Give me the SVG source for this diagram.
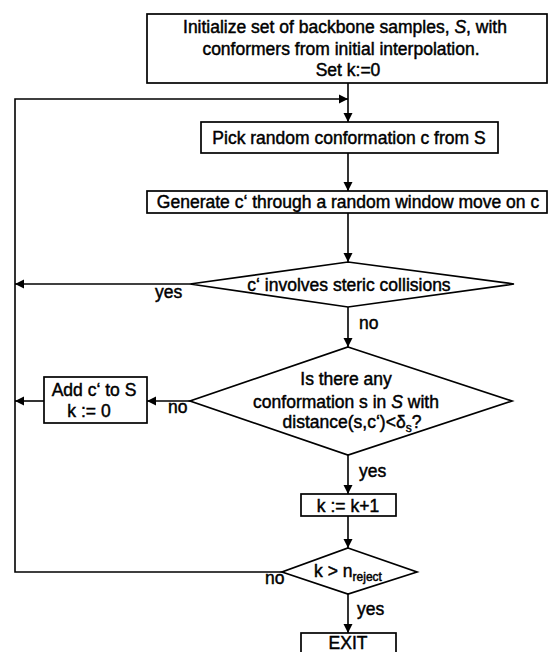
<svg xmlns="http://www.w3.org/2000/svg" width="548" height="652" viewBox="0 0 548 652">
<defs>
<style>
.box{fill:#fff;stroke:#000;stroke-width:1.7}
.ln{fill:none;stroke:#000;stroke-width:1.6}
.t{font-family:"Liberation Sans",Arial,sans-serif;font-size:17.5px;fill:#000;stroke:#000;stroke-width:0.45;text-anchor:middle}
.l{font-family:"Liberation Sans",Arial,sans-serif;font-size:17.5px;fill:#000;stroke:#000;stroke-width:0.45;text-anchor:start}
.sub{font-size:12px}
</style>
<marker id="ah" markerWidth="10" markerHeight="10" refX="9" refY="5" orient="auto" markerUnits="userSpaceOnUse">
<path d="M0,0.5 L9,5 L0,9.5 Z" fill="#000"/>
</marker>
</defs>
<rect width="548" height="652" fill="#fff"/>
<g id="connectors">
<path class="ln" d="M348,83 V122" marker-end="url(#ah)"/>
<path class="ln" d="M282,572 H15 V99 H348" marker-end="url(#ah)"/>
<path class="ln" d="M348,153 V191" marker-end="url(#ah)"/>
<path class="ln" d="M348,213 V262" marker-end="url(#ah)"/>
<path class="ln" d="M190,284 H15" marker-end="url(#ah)"/>
<path class="ln" d="M348,307 V347" marker-end="url(#ah)"/>
<path class="ln" d="M190,401 H147" marker-end="url(#ah)"/>
<path class="ln" d="M44,401 H15" marker-end="url(#ah)"/>
<path class="ln" d="M348,455 V494" marker-end="url(#ah)"/>
<path class="ln" d="M348,516 V548" marker-end="url(#ah)"/>
<path class="ln" d="M348,594 V633" marker-end="url(#ah)"/>
<text class="l" x="155" y="298">yes</text>
<text class="l" x="359" y="329">no</text>
<text class="l" x="168" y="413">no</text>
<text class="l" x="359" y="477">yes</text>
<text class="l" x="265" y="584">no</text>
<text class="l" x="357" y="615">yes</text>
</g>
<g id="init">
<rect class="box" x="147" y="14" width="400" height="69"/>
<text class="t" x="345" y="33">Initialize set of backbone samples, <tspan font-style="italic">S</tspan>, with</text>
<text class="t" x="341" y="55">conformers from initial interpolation.</text>
<text class="t" x="348" y="76">Set k:=0</text>
</g>
<g id="pick">
<rect class="box" x="201" y="122" width="297" height="31"/>
<text class="t" x="349" y="144">Pick random conformation c from S</text>
</g>
<g id="generate">
<rect class="box" x="147" y="191" width="400" height="22"/>
<text class="t" x="348" y="208">Generate c‘ through a random window move on c</text>
</g>
<g id="collision">
<polygon class="box" points="348,262 514,284 348,307 190,284"/>
<text class="t" x="349" y="291">c‘ involves steric collisions</text>
</g>
<g id="distance">
<polygon class="box" points="348,347 512,401 348,455 190,401"/>
<text class="t" x="346" y="385">Is there any</text>
<text class="t" x="346" y="408">conformation s in <tspan font-style="italic">S</tspan> with</text>
<text class="t" x="352" y="428">distance(s,c‘)&lt;δ<tspan class="sub" dy="4">s</tspan><tspan dy="-4">?</tspan></text>
</g>
<g id="add">
<rect class="box" x="44" y="377" width="103" height="46"/>
<text class="t" x="94" y="396">Add c‘ to S</text>
<text class="t" x="89" y="417">k := 0</text>
</g>
<g id="increment">
<rect class="box" x="301" y="494" width="95" height="22"/>
<text class="t" x="348" y="512">k := k+1</text>
</g>
<g id="reject">
<polygon class="box" points="348,548 417,572 348,594 282,572"/>
<text class="t" x="348" y="577">k &gt; n<tspan class="sub" dy="4">reject</tspan></text>
</g>
<g id="exit">
<rect class="box" x="301" y="633" width="95" height="30"/>
<text class="t" x="348" y="649">EXIT</text>
</g>
</svg>
